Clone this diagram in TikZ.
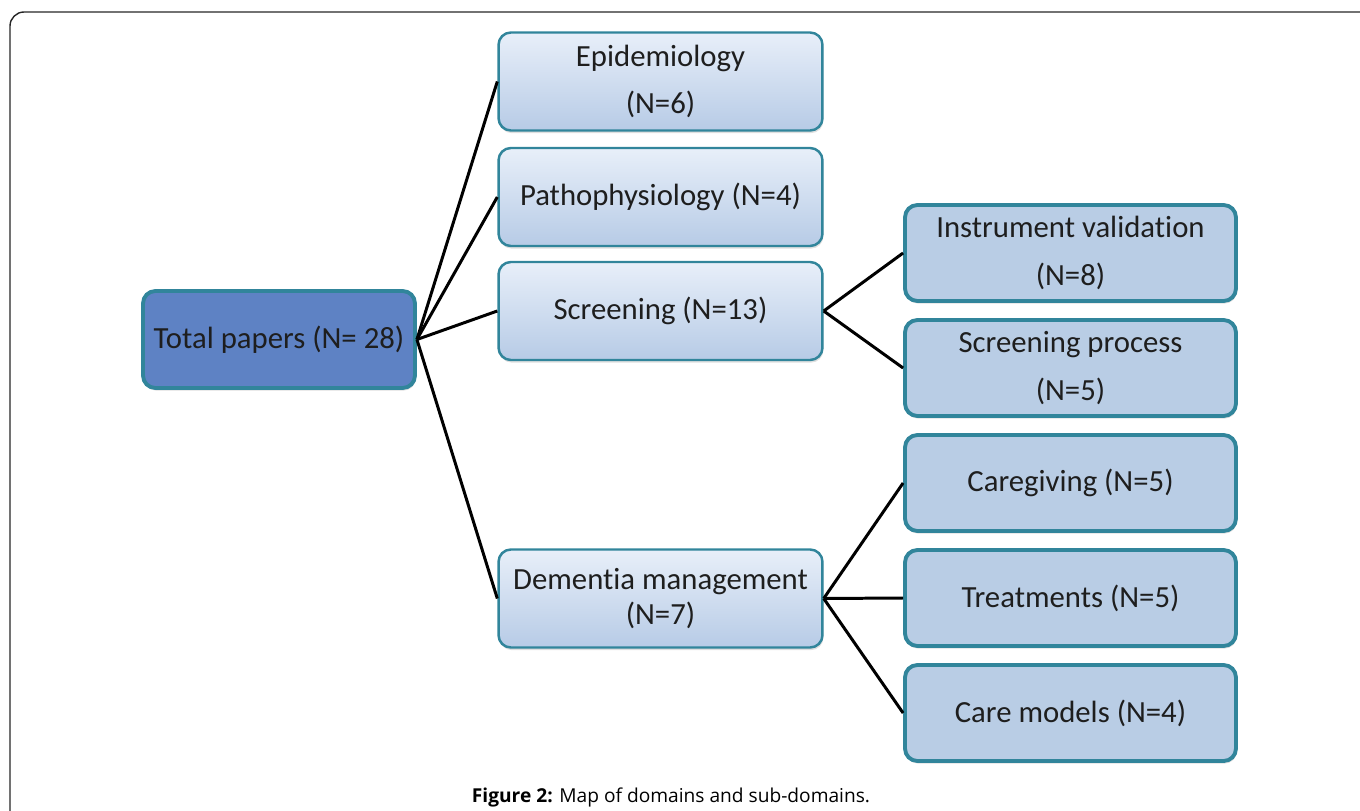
\documentclass[tikz,border=0pt]{standalone}
\usepackage{fontspec}
\setmainfont{Carlito}[Ligatures=NoCommon]
\newfontfamily\captionfont{Open Sans}
\usetikzlibrary{shadows}
\definecolor{tealedge}{RGB}{49,133,155}
\definecolor{rootblue}{RGB}{94,130,196}
\definecolor{lighttop}{RGB}{232,239,249}
\definecolor{lightbot}{RGB}{183,203,230}
\definecolor{subblue}{RGB}{185,205,229}
\definecolor{textgrey}{RGB}{30,30,30}

\begin{document}
\begin{tikzpicture}[x=0.02cm, y=-0.02cm,
  boxfont/.style={font=\fontsize{17.5}{20}\selectfont, text=textgrey, align=center},
  rootbox/.style={boxfont, draw=tealedge, line width=2.2pt, fill=rootblue, rounded corners=7pt,
    minimum width=5.44cm, minimum height=1.94cm, drop shadow={opacity=0.25, shadow xshift=0.5pt, shadow yshift=-1.5pt}},
  domainbox/.style={boxfont, draw=tealedge, line width=1.4pt, top color=lighttop, bottom color=lightbot,
    rounded corners=7pt, minimum width=6.48cm, minimum height=1.96cm, drop shadow={opacity=0.25, shadow xshift=0.5pt, shadow yshift=-1.5pt}},
  subbox/.style={boxfont, draw=tealedge, line width=2.2pt, fill=subblue, rounded corners=7pt,
    minimum width=6.62cm, minimum height=1.92cm, drop shadow={opacity=0.25, shadow xshift=0.5pt, shadow yshift=-1.5pt}},
  link/.style={line width=1.7pt, black}]
\useasboundingbox (0,0) rectangle (1360,811);
\draw[line width=0.8pt, rounded corners=8pt, black!85] (10,12) rectangle (1400,850);

% domains
\node[rootbox] (total) at (279,339.5) {Total papers (N= 28)};
\node[domainbox] (epid) at (660.5,81.5) {Epidemiology\\[7pt](N=6)};
\node[domainbox] (patho) at (660.5,197) {Pathophysiology (N=4)};
\node[domainbox] (screen) at (660.5,311) {Screening (N=13)};
\node[domainbox] (dement) at (660.5,598.5) {Dementia management\\(N=7)};

% sub-domains
\node[subbox] (instr) at (1070.5,253) {Instrument validation\\[7pt](N=8)};
\node[subbox] (sproc) at (1070.5,368) {Screening process\\[7pt](N=5)};
\node[subbox] (care) at (1070.5,483) {Caregiving (N=5)};
\node[subbox] (treat) at (1070.5,598) {Treatments (N=5)};
\node[subbox] (models) at (1070.5,713) {Care models (N=4)};

\draw[link] (total.east) -- (epid.west);
\draw[link] (total.east) -- (patho.west);
\draw[link] (total.east) -- (screen.west);
\draw[link] (total.east) -- (dement.west);
\draw[link] (screen.east) -- (instr.west);
\draw[link] (screen.east) -- (sproc.west);
\draw[link] (dement.east) -- (care.west);
\draw[link] (dement.east) -- (treat.west);
\draw[link] (dement.east) -- (models.west);

\node[font=\captionfont\fontsize{10.9}{12}\selectfont] (caption) at (671,797) {\textbf{Figure 2:} Map of domains and sub-domains.};
\end{tikzpicture}
\end{document}
